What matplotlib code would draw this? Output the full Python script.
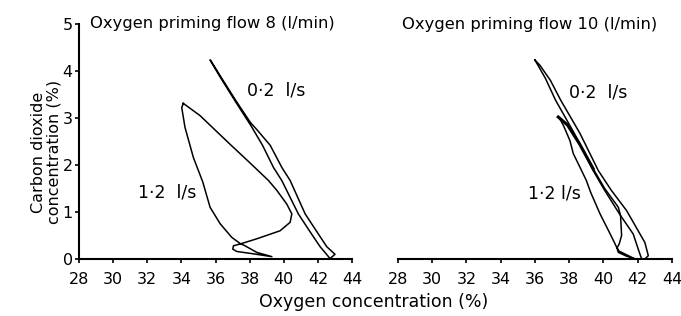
import numpy as np
import matplotlib
matplotlib.use('Agg')
import matplotlib.pyplot as plt

# oxygen priming flow 8 l/min
o2_8_slow = [35.68, 36.27, 37.2, 38.1, 38.75, 39.39, 39.88, 40.85, 41.5, 42.13, 42.71,
             43.0, 42.52, 41.9, 41.25, 40.37, 39.88, 39.2, 38.4, 38.05, 37.24, 36.3, 35.72]
co2_8_slow = [4.23, 3.87, 3.33, 2.82, 2.42, 1.95, 1.67, 0.96, 0.6, 0.26, 0.01,
              0.1, 0.26, 0.6, 0.96, 1.67, 1.95, 2.42, 2.76, 2.9, 3.34, 3.88, 4.22]
o2_8_fast = [34.11, 35.09, 36.85, 38.0, 39.1, 39.59, 40.17, 40.47, 40.37, 39.78, 38.42, 37.54,
             37.05, 37.01, 37.24, 38.22, 39.3, 38.42, 37.73, 37.44, 36.95, 36.27, 35.68,
             35.25, 34.7, 34.21, 34.02, 34.11]
co2_8_fast = [3.31, 3.05, 2.44, 2.05, 1.67, 1.46, 1.17, 0.96, 0.78, 0.60, 0.43, 0.33,
              0.28, 0.21, 0.16, 0.11, 0.05, 0.14, 0.28, 0.33, 0.46, 0.75, 1.10,
              1.64, 2.16, 2.8, 3.22, 3.31]

# oxygen priming flow 10 l/min
o2_10_slow = [36.0, 36.6, 37.2, 38.3, 39.4, 40.07, 40.95, 41.74, 42.03, 42.23, 42.42,
              42.62, 42.42, 41.35, 40.46, 39.7, 38.63, 37.5, 36.9, 36.29, 36.0]
co2_10_slow = [4.23, 3.85, 3.38, 2.67, 1.88, 1.46, 0.95, 0.53, 0.21, 0.0, 0.0,
               0.07, 0.35, 1.03, 1.46, 1.88, 2.67, 3.38, 3.8, 4.12, 4.23]
o2_10_fast = [37.36, 37.5, 37.65, 38.04, 38.24, 38.63, 39.0, 39.25, 39.8, 40.3, 40.6, 40.77,
              40.87, 41.35, 41.85, 41.4, 40.9, 40.8, 40.92, 41.06, 41.0, 40.87, 40.07,
              39.4, 38.6, 37.9, 37.36]
co2_10_fast = [3.02, 2.95, 2.85, 2.52, 2.24, 1.95, 1.67, 1.42, 0.96, 0.6, 0.38, 0.25,
               0.14, 0.06, 0.0, 0.08, 0.17, 0.24, 0.32, 0.5, 0.92, 1.1, 1.5,
               1.92, 2.45, 2.85, 3.02]

x_ticks = [28, 30, 32, 34, 36, 38, 40, 42, 44]
y_ticks = [0, 1, 2, 3, 4, 5]

plt.rcParams['font.family'] = 'DejaVu Sans'
fig = plt.figure(figsize=(6.81, 3.16), dpi=100)

ax1 = fig.add_axes([0.116, 0.1804, 0.401, 0.744])
ax2 = fig.add_axes([0.5844, 0.1804, 0.4023, 0.744])

for ax in (ax1, ax2):
    ax.set_xlim(28, 44)
    ax.set_ylim(0, 5)
    ax.set_xticks(x_ticks)
    ax.set_xticklabels([str(t) for t in x_ticks])
    ax.tick_params(axis='x', length=3, width=1.2, pad=6.5, labelsize=11.5)
    ax.spines['top'].set_visible(False)
    ax.spines['right'].set_visible(False)
    ax.spines['bottom'].set_linewidth(1.5)
    ax.spines['left'].set_linewidth(1.5)
    ax.patch.set_alpha(0)

ax1.set_yticks(y_ticks)
ax1.tick_params(axis='y', length=3, width=1.2, pad=1.5, labelsize=11.5)
ax2.spines['left'].set_visible(False)
ax2.set_yticks([])

ax1.plot(o2_8_slow, co2_8_slow, color='black', lw=1.1)
ax1.plot(o2_8_fast, co2_8_fast, color='black', lw=1.1)
ax2.plot(o2_10_slow, co2_10_slow, color='black', lw=1.1)
ax2.plot(o2_10_fast, co2_10_fast, color='black', lw=1.1)
# darker trace where the fast loop runs over the slow one
ax2.plot(o2_10_fast[-4:], co2_10_fast[-4:], color='black', lw=2.2)

ax1.text(39.55, 3.59, '0·2  l/s', fontsize=12.5, ha='center', va='center')
ax1.text(33.16, 1.41, '1·2  l/s', fontsize=12.5, ha='center', va='center')
ax2.text(39.68, 3.55, '0·2  l/s', fontsize=12.5, ha='center', va='center')
ax2.text(37.11, 1.39, '1·2 l/s', fontsize=12.5, ha='center', va='center')

fig.text(0.132, 0.927, 'Oxygen priming flow 8 (l/min)', fontsize=11.8, ha='left', va='center')
fig.text(0.590, 0.921, 'Oxygen priming flow 10 (l/min)', fontsize=11.8, ha='left', va='center')
fig.text(0.549, 0.044, 'Oxygen concentration (%)', fontsize=12.5, ha='center', va='center')
fig.text(0.068, 0.519, 'Carbon dioxide\nconcentration (%)', fontsize=11.5, ha='center',
         va='center', rotation=90, linespacing=1.1)

fig.savefig('out.png', dpi=100)
